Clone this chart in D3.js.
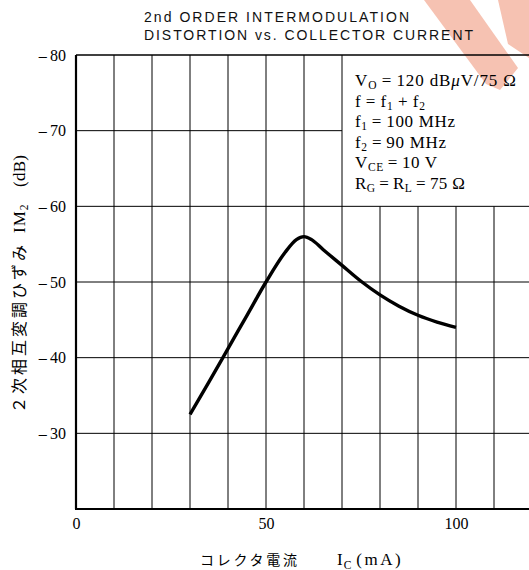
<!DOCTYPE html>
<html><head><meta charset="utf-8">
<script src="https://cdn.jsdelivr.net/npm/d3@7"></script>
<style>html,body{margin:0;padding:0;background:#fff;}svg{display:block;}</style>
</head><body>
<svg id="chart" width="529" height="570"></svg>
<script>
// ---- data ----
const icValues = [30, 35, 40, 45, 50, 55, 58, 60, 62, 65, 70, 75, 80, 85, 90, 95, 100];
const im2Values = [-32.5, -36.8, -41.2, -45.6, -50.0, -53.9, -55.6, -56.0, -55.6, -54.3, -52.2, -50.1, -48.3, -46.8, -45.6, -44.7, -44.0];
const xGridTicks = [10, 20, 30, 40, 50, 60, 70, 80, 90, 100, 110];
const xLabelTicks = [0, 50, 100];
const yTicks = [-80, -70, -60, -50, -40, -30];
const yGridTicks = [-70, -60, -50, -40, -30];
const titleLines = ["2nd ORDER INTERMODULATION", "DISTORTION vs. COLLECTOR CURRENT"];
const conditions = [
  [["V", ""], ["O", "sub"], ["\u2009=\u2009120 dB", ""], ["\u03BC", "it"], ["V/75 \u03A9", ""]],
  [["f\u2009=\u2009f", ""], ["1", "sub"], ["\u2009+\u2009f", ""], ["2", "sub"]],
  [["f", ""], ["1", "sub"], ["\u2009=\u2009100 MHz", ""]],
  [["f", ""], ["2", "sub"], ["\u2009=\u200990 MHz", ""]],
  [["V", ""], ["CE", "sub"], ["\u2009=\u200910 V", ""]],
  [["R", ""], ["G", "sub"], ["\u2009=\u2009R", ""], ["L", "sub"], ["\u2009=\u200975 \u03A9", ""]]
];
const conditionWidths = [161, 70, 100, 91, 82, 110];

const svg = d3.select("#chart");
const L = 76, T = 55, R = 532, B = 509;
const x = d3.scaleLinear().domain([0, 120]).range([L, R]);
const y = d3.scaleLinear().domain([-80, -20]).range([T, B]);
const serif = "'Liberation Serif','DejaVu Serif',serif";
const sans = "'Liberation Sans',Arial,sans-serif";
const cjk = "'Noto Sans CJK JP',sans-serif";

// watermark (decorative)
const wm = svg.append("g").attr("fill", "#f6c2b2");
wm.append("path").attr("d", "M424,0 L470,0 L518,68 L500,90 L486,84 Z");
wm.append("path").attr("d", "M498,0 L529,0 L529,58 L508,44 Z");

// grid
const g = svg.append("g").attr("stroke", "#000").attr("stroke-width", 1);
g.selectAll("line.vx").data(xGridTicks).join("line")
  .attr("x1", d => x(d)).attr("x2", d => x(d))
  .attr("y1", d => d > 70 ? y(-60) : T).attr("y2", B);
g.selectAll("line.hy").data(yGridTicks).join("line")
  .attr("y1", d => y(d)).attr("y2", d => y(d))
  .attr("x1", L).attr("x2", d => d === -70 ? x(70) : R);

// frame
svg.append("line").attr("x1", L).attr("x2", R).attr("y1", T).attr("y2", T).attr("stroke", "#000").attr("stroke-width", 1.6);
svg.append("line").attr("x1", L).attr("x2", L).attr("y1", T).attr("y2", B).attr("stroke", "#000").attr("stroke-width", 2.2);
svg.append("line").attr("x1", L - 1).attr("x2", R).attr("y1", B).attr("y2", B).attr("stroke", "#000").attr("stroke-width", 2.2);

// axes labels
const xAxis = d3.axisBottom(x).tickValues(xLabelTicks).tickSize(0).tickPadding(9).tickFormat(d3.format("d"));
const xa = svg.append("g").attr("transform", `translate(0,${B})`).call(xAxis);
xa.select(".domain").remove();
xa.selectAll("text").attr("font-family", serif).attr("font-size", 16).attr("fill", "#000");

const yAxis = d3.axisLeft(y).tickValues(yTicks).tickSize(0).tickPadding(10)
  .tickFormat(d => "\u2013\u2009" + Math.abs(d));
const ya = svg.append("g").attr("transform", `translate(${L},0)`).call(yAxis);
ya.select(".domain").remove();
ya.selectAll("text").attr("font-family", serif).attr("font-size", 16).attr("fill", "#000");

// curve
const line = d3.line().x((d, i) => x(icValues[i])).y(d => y(d)).curve(d3.curveMonotoneX);
svg.append("path").datum(im2Values).attr("d", line)
  .attr("fill", "none").attr("stroke", "#000").attr("stroke-width", 3.4).attr("stroke-linecap", "butt");

// title
svg.selectAll("text.title").data(titleLines).join("text").attr("class", "title")
  .attr("x", 144).attr("y", (d, i) => 22 + i * 18)
  .attr("font-family", sans).attr("font-size", 14).attr("fill", "#111")
  .attr("textLength", (d, i) => i === 0 ? 265 : 329).attr("lengthAdjust", "spacing")
  .text(d => d);

// conditions
const cg = svg.append("g").attr("font-family", serif).attr("font-size", 17).attr("fill", "#000");
conditions.forEach((parts, i) => {
  const t = cg.append("text").attr("x", 355).attr("y", 86 + i * 20.6)
    .attr("textLength", conditionWidths[i]).attr("lengthAdjust", "spacing");
  let lowered = false;
  parts.forEach(([s, k]) => {
    const ts = t.append("tspan").text(s);
    if (k === "sub") { ts.attr("font-size", 11.5).attr("dy", lowered ? 0 : 3); lowered = true; }
    else {
      if (k === "it") ts.attr("font-style", "italic");
      if (lowered) { ts.attr("dy", -3); lowered = false; }
    }
  });
});

// x-axis title
svg.append("text").attr("x", 200).attr("y", 565).attr("fill", "#000")
  .attr("font-family", cjk).attr("font-size", 14).attr("textLength", 97).attr("lengthAdjust", "spacing")
  .text("コレクタ電流");
const xt = svg.append("text").attr("x", 337).attr("y", 565).attr("fill", "#000").attr("font-family", serif);
xt.append("tspan").attr("font-size", 17).text("I");
xt.append("tspan").attr("font-size", 11.5).attr("dy", 4).attr("dx", 1).text("C");
xt.append("tspan").attr("font-size", 17).attr("dy", -4).attr("dx", 5).attr("letter-spacing", 2.5).text("(mA)");

// y-axis title
const yg = svg.append("g").attr("transform", "translate(25,0) rotate(-90)").attr("fill", "#000");
yg.append("text").attr("x", -413).attr("y", 0).attr("font-family", cjk).attr("font-size", 16)
  .attr("textLength", 168).attr("lengthAdjust", "spacing").text("２次相互変調ひずみ");
const ym = yg.append("text").attr("x", -233).attr("y", 0).attr("font-family", serif);
ym.append("tspan").attr("font-size", 17).attr("letter-spacing", 1).text("IM");
ym.append("tspan").attr("font-size", 11.5).attr("dy", 3).text("2");
yg.append("text").attr("x", -187).attr("y", 0).attr("font-family", serif).attr("font-size", 17)
  .attr("textLength", 32).attr("lengthAdjust", "spacing").text("(dB)");
</script>
</body></html>
